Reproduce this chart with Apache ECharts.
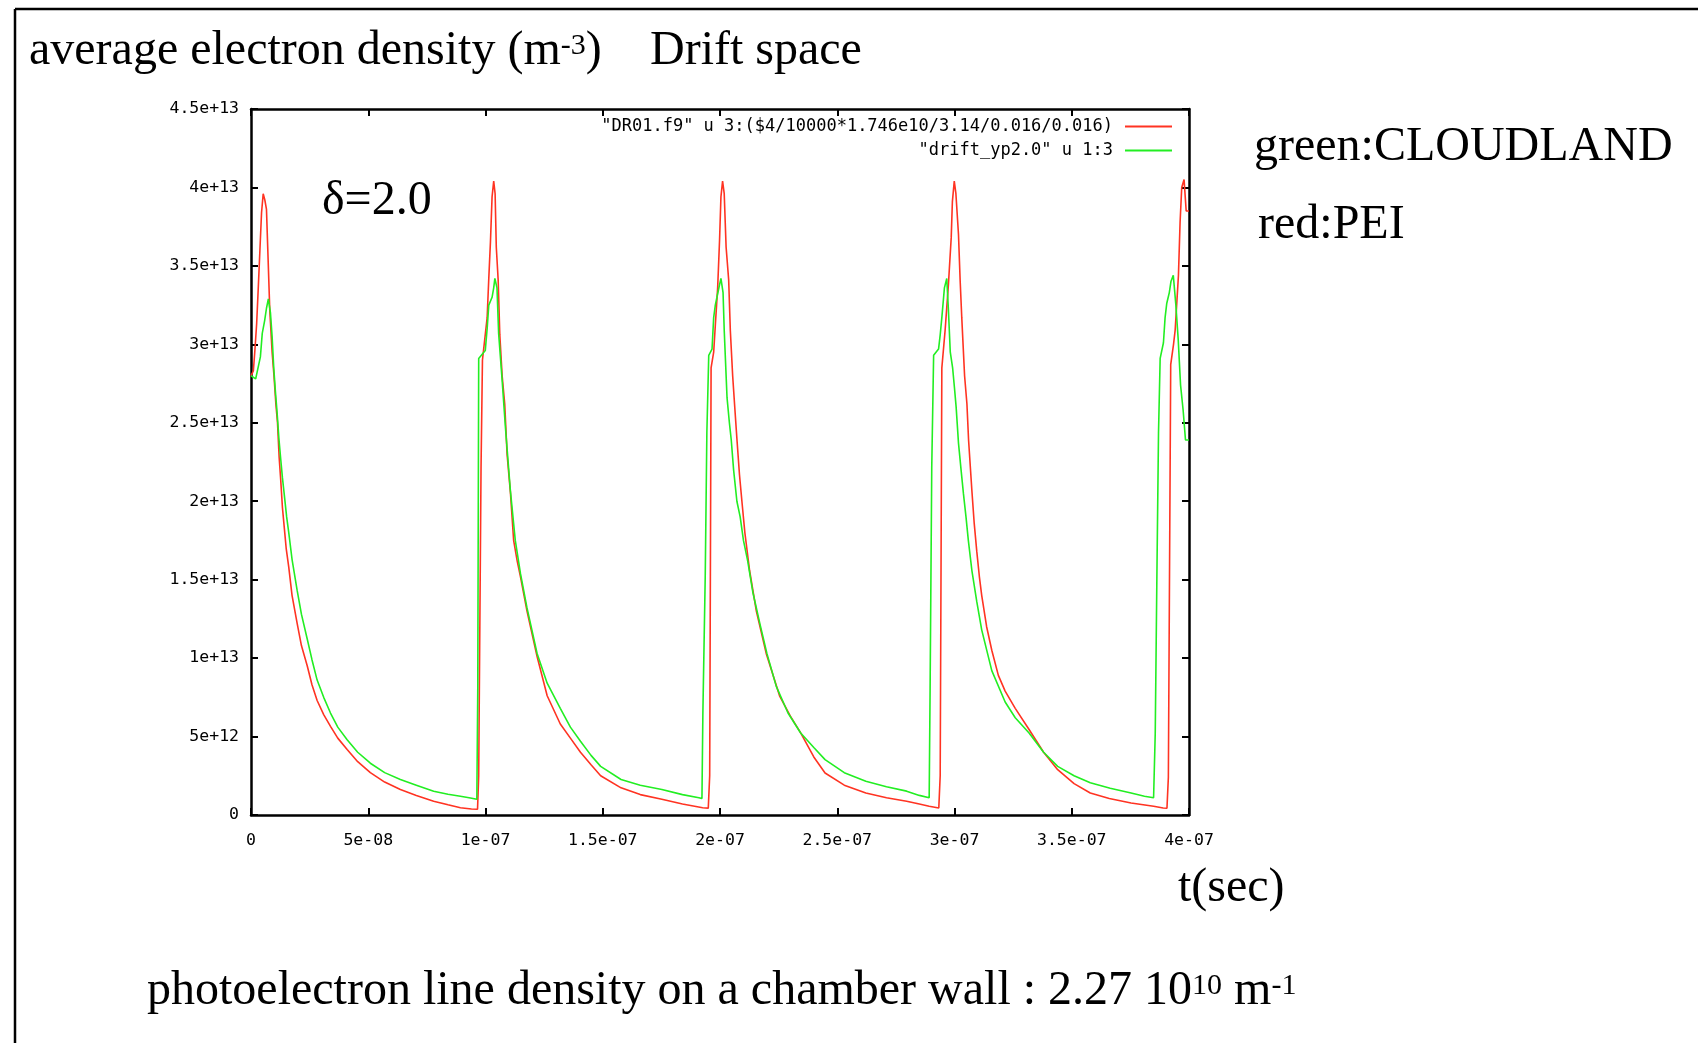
<!DOCTYPE html>
<html lang="en">
<head>
    <meta charset="utf-8"/>
    <title>average electron density - Drift space</title>
    <script src="https://cdn.jsdelivr.net/npm/echarts@6/dist/echarts.min.js"></script>
    <style>
        html, body { margin: 0; padding: 0; background: #fff; }
        #main { width: 1698px; height: 1043px; }
    </style>
</head>
<body>
<div id="main"></div>
<script>
    // time in units of 1e-8 s, density in units of 1e13 m^-3
    var redT = [
        0.00, 0.10, 0.17, 0.24, 0.31, 0.38, 0.45, 0.52, 0.59, 0.66, 0.73, 0.80, 0.90, 0.98, 1.06, 1.13, 1.20, 1.27, 1.34, 1.42,
        1.50, 1.61, 1.75, 1.97, 2.15, 2.40, 2.60, 2.82, 3.10, 3.39, 3.70, 4.10, 4.55, 5.09, 5.70, 6.37, 7.05, 7.79, 8.40, 8.93, 9.40, 9.66,
        9.71, 9.81, 9.87, 10.07, 10.14, 10.21, 10.28, 10.35, 10.41, 10.46, 10.54, 10.61, 10.71, 10.82, 10.92, 11.06, 11.20, 11.35,
        11.49, 11.77, 12.20, 12.63, 13.19, 13.62, 14.05, 14.50, 14.91, 15.78, 16.60, 17.52, 18.40, 19.26, 19.50,
        19.56, 19.62, 19.73, 19.80, 19.90, 19.98, 20.04, 20.11, 20.18, 20.26, 20.37, 20.44, 20.54, 20.62, 20.72, 20.83, 20.94,
        21.06, 21.26, 21.55, 21.97, 22.54, 23.00, 23.44, 24.00, 24.48, 25.30, 26.22, 27.10, 27.96, 28.50, 28.92, 29.33,
        29.39, 29.46, 29.60, 29.74, 29.86, 29.91, 29.99, 30.06, 30.17, 30.24, 30.31, 30.43, 30.53, 30.60, 30.74, 30.84, 30.95,
        31.06, 31.16, 31.37, 31.59, 31.87, 32.16, 32.59, 33.18, 33.80, 34.40, 35.10, 35.79, 36.60, 37.53, 38.49, 38.90, 39.06,
        39.12, 39.22, 39.34, 39.41, 39.55, 39.62, 39.69, 39.79, 39.88, 40.00
    ];
    var redV = [
        2.80, 2.83, 2.97, 3.13, 3.36, 3.60, 3.84, 3.96, 3.92, 3.86, 3.54, 3.22, 2.95, 2.80, 2.62, 2.50, 2.28, 2.13, 1.96, 1.83,
        1.70, 1.58, 1.40, 1.22, 1.08, 0.95, 0.83, 0.73, 0.64, 0.565, 0.49, 0.417, 0.34, 0.27, 0.21, 0.162, 0.125, 0.088, 0.065, 0.046, 0.038, 0.037,
        0.25, 2.22, 2.90, 3.17, 3.42, 3.65, 3.94, 4.04, 3.96, 3.62, 3.41, 3.06, 2.80, 2.62, 2.30, 2.06, 1.75, 1.62,
        1.52, 1.30, 1.01, 0.76, 0.58, 0.49, 0.40, 0.32, 0.25, 0.173, 0.13, 0.10, 0.07, 0.046, 0.044,
        0.25, 2.85, 2.95, 3.12, 3.36, 3.66, 3.94, 4.04, 3.96, 3.62, 3.41, 3.09, 2.80, 2.62, 2.40, 2.17, 1.99,
        1.80, 1.56, 1.30, 1.03, 0.76, 0.63, 0.523, 0.37, 0.268, 0.19, 0.14, 0.11, 0.088, 0.07, 0.056, 0.045,
        0.25, 2.85, 3.09, 3.38, 3.68, 3.91, 4.04, 3.96, 3.70, 3.41, 3.17, 2.80, 2.62, 2.39, 2.07, 1.86, 1.68,
        1.52, 1.40, 1.20, 1.05, 0.89, 0.79, 0.68, 0.545, 0.40, 0.289, 0.20, 0.14, 0.105, 0.077, 0.056, 0.045, 0.043,
        0.24, 2.87, 3.00, 3.09, 3.44, 3.78, 4.00, 4.05, 3.85, 3.85
    ];
    var greenT = [
        0.00, 0.20, 0.40, 0.48, 0.58, 0.66, 0.74, 0.83, 0.90, 0.97, 1.04, 1.12, 1.19, 1.26, 1.34, 1.42, 1.52, 1.61, 1.75, 1.97,
        2.15, 2.40, 2.60, 2.82, 3.10, 3.39, 3.70, 4.10, 4.55, 5.09, 5.70, 6.37, 7.05, 7.79, 8.40, 8.93, 9.30, 9.63,
        9.67, 9.71, 9.99, 10.07, 10.14, 10.28, 10.35, 10.40, 10.49, 10.56, 10.71, 10.85, 11.06, 11.27, 11.49, 11.77, 12.20, 12.63,
        13.19, 13.62, 14.05, 14.50, 14.91, 15.78, 16.60, 17.52, 18.40, 19.10, 19.23,
        19.27, 19.37, 19.44, 19.52, 19.66, 19.73, 19.80, 19.87, 19.98, 20.04, 20.13, 20.18, 20.30, 20.40, 20.48, 20.58, 20.72,
        20.86, 21.00, 21.18, 21.40, 21.70, 22.00, 22.40, 22.90, 23.44, 24.00, 24.48, 25.30, 26.22, 27.10, 27.96, 28.50, 28.92,
        28.96, 29.03, 29.11, 29.32, 29.39, 29.46, 29.57, 29.67, 29.74, 29.82, 29.92, 30.00, 30.07, 30.17, 30.28, 30.38, 30.49,
        30.59, 30.74, 30.95, 31.16, 31.59, 32.16, 32.59, 33.18, 33.80, 34.40, 35.10, 35.79, 36.64, 37.53, 38.10, 38.49, 38.53,
        38.56, 38.63, 38.70, 38.77, 38.91, 38.98, 39.05, 39.16, 39.23, 39.33, 39.44, 39.54, 39.64, 39.75, 39.85, 40.00
    ];
    var greenV = [
        2.80, 2.78, 2.92, 3.07, 3.15, 3.23, 3.29, 3.20, 3.05, 2.85, 2.70, 2.55, 2.40, 2.28, 2.15, 2.04, 1.90, 1.80, 1.63, 1.43,
        1.28, 1.12, 0.99, 0.86, 0.75, 0.65, 0.56, 0.48, 0.40, 0.33, 0.27, 0.226, 0.19, 0.151, 0.132, 0.12, 0.11, 0.10,
        0.80, 2.91, 2.96, 3.10, 3.25, 3.30, 3.36, 3.42, 3.36, 3.07, 2.77, 2.47, 2.07, 1.75, 1.54, 1.32, 1.03, 0.84,
        0.68, 0.56, 0.47, 0.38, 0.31, 0.226, 0.19, 0.163, 0.13, 0.11, 0.105,
        0.65, 1.52, 2.44, 2.93, 2.97, 3.17, 3.25, 3.30, 3.38, 3.42, 3.33, 3.09, 2.66, 2.50, 2.39, 2.20, 2.00,
        1.90, 1.75, 1.62, 1.42, 1.22, 1.03, 0.82, 0.65, 0.523, 0.43, 0.353, 0.27, 0.215, 0.18, 0.152, 0.125, 0.11,
        0.81, 2.22, 2.93, 2.97, 3.06, 3.17, 3.36, 3.42, 3.22, 2.95, 2.85, 2.72, 2.60, 2.37, 2.20, 2.05, 1.90,
        1.75, 1.56, 1.36, 1.18, 0.92, 0.72, 0.62, 0.523, 0.40, 0.31, 0.25, 0.205, 0.17, 0.14, 0.12, 0.11, 0.105,
        0.52, 1.51, 2.44, 2.91, 3.01, 3.17, 3.26, 3.33, 3.40, 3.44, 3.25, 3.03, 2.74, 2.58, 2.39, 2.39
    ];
    var xTickLabels = ['0', '5e-08', '1e-07', '1.5e-07', '2e-07', '2.5e-07', '3e-07', '3.5e-07', '4e-07'];
    var yTickLabels = ['0', '5e+12', '1e+13', '1.5e+13', '2e+13', '2.5e+13', '3e+13', '3.5e+13', '4e+13', '4.5e+13'];
    var legendNames = ['"DR01.f9" u 3:($4/10000*1.746e10/3.14/0.016/0.016)', '"drift_yp2.0" u 1:3'];

    var RED = '#ff3322';
    var GREEN = '#22ee22';
    var MONO = 'DejaVu Sans Mono';
    var SERIF = 'Liberation Serif';

    function pairs(ts, vs) {
        return ts.map(function (t, i) { return [t, vs[i]]; });
    }

    function frameAxis(position, labels, step, max, withLabels) {
        return {
            type: 'value',
            position: position,
            min: 0,
            max: max,
            interval: step,
            axisLine: {show: true, onZero: false, lineStyle: {color: '#000', width: 2.5}},
            axisTick: {show: true, inside: true, length: 7, lineStyle: {color: '#000', width: 2}},
            splitLine: {show: false},
            axisLabel: {
                show: withLabels,
                margin: position === 'bottom' ? 17 : 12,
                fontFamily: MONO,
                fontSize: 16.5,
                color: '#000',
                formatter: function (v) { return labels[Math.round(v / step)]; }
            }
        };
    }

    var chart = echarts.init(document.getElementById('main'));
    var option = {
        animation: false,
        backgroundColor: '#fff',
        grid: {left: 251, right: 509, top: 109, bottom: 228},
        xAxis: [
            frameAxis('bottom', xTickLabels, 5, 40, true),
            frameAxis('top', xTickLabels, 5, 40, false)
        ],
        yAxis: [
            frameAxis('left', yTickLabels, 0.5, 4.5, true),
            frameAxis('right', yTickLabels, 0.5, 4.5, false)
        ],
        legend: {
            orient: 'vertical',
            align: 'right',
            right: 521,
            top: 113,
            itemWidth: 47,
            itemHeight: 2,
            itemGap: 7,
            selectedMode: false,
            textStyle: {fontFamily: MONO, fontSize: 17, color: '#000', padding: [0, 7, 0, 0]},
            data: [
                {name: legendNames[0], icon: 'rect'},
                {name: legendNames[1], icon: 'rect'}
            ]
        },
        series: [
            {
                name: legendNames[0],
                type: 'line',
                symbol: 'none',
                silent: true,
                data: pairs(redT, redV),
                lineStyle: {color: RED, width: 1.6},
                itemStyle: {color: RED}
            },
            {
                name: legendNames[1],
                type: 'line',
                symbol: 'none',
                silent: true,
                data: pairs(greenT, greenV),
                lineStyle: {color: GREEN, width: 1.6},
                itemStyle: {color: GREEN}
            }
        ],
        graphic: [
            {type: 'line', silent: true, shape: {x1: 15, y1: 9, x2: 1698, y2: 9}, style: {stroke: '#000', lineWidth: 2.5}},
            {type: 'line', silent: true, shape: {x1: 15, y1: 9, x2: 15, y2: 1043}, style: {stroke: '#000', lineWidth: 2.5}},
            {
                type: 'text', x: 29, y: 51,
                style: {
                    text: 'average electron density (m{sup|-3})',
                    fontFamily: SERIF, fontSize: 48, fill: '#000', verticalAlign: 'middle',
                    rich: {sup: {fontFamily: SERIF, fontSize: 30, padding: [0, 0, 9, 0]}}
                }
            },
            {
                type: 'text', x: 650, y: 51,
                style: {text: 'Drift space', fontFamily: SERIF, fontSize: 48, fill: '#000', verticalAlign: 'middle'}
            },
            {
                type: 'text', x: 322, y: 201,
                style: {text: 'δ=2.0', fontFamily: SERIF, fontSize: 48, fill: '#000', verticalAlign: 'middle'}
            },
            {
                type: 'text', x: 1254, y: 147,
                style: {text: 'green:CLOUDLAND', fontFamily: SERIF, fontSize: 48, fill: '#000', verticalAlign: 'middle'}
            },
            {
                type: 'text', x: 1258, y: 225,
                style: {text: 'red:PEI', fontFamily: SERIF, fontSize: 48, fill: '#000', verticalAlign: 'middle'}
            },
            {
                type: 'text', x: 1178, y: 888,
                style: {text: 't(sec)', fontFamily: SERIF, fontSize: 48, fill: '#000', verticalAlign: 'middle'}
            },
            {
                type: 'text', x: 147, y: 991,
                style: {
                    text: 'photoelectron line density on a chamber wall : 2.27 10{sup|10} m{sup|-1}',
                    fontFamily: SERIF, fontSize: 48, fill: '#000', verticalAlign: 'middle',
                    rich: {sup: {fontFamily: SERIF, fontSize: 30, padding: [0, 0, 9, 0]}}
                }
            }
        ]
    };
    chart.setOption(option);
</script>
</body>
</html>
